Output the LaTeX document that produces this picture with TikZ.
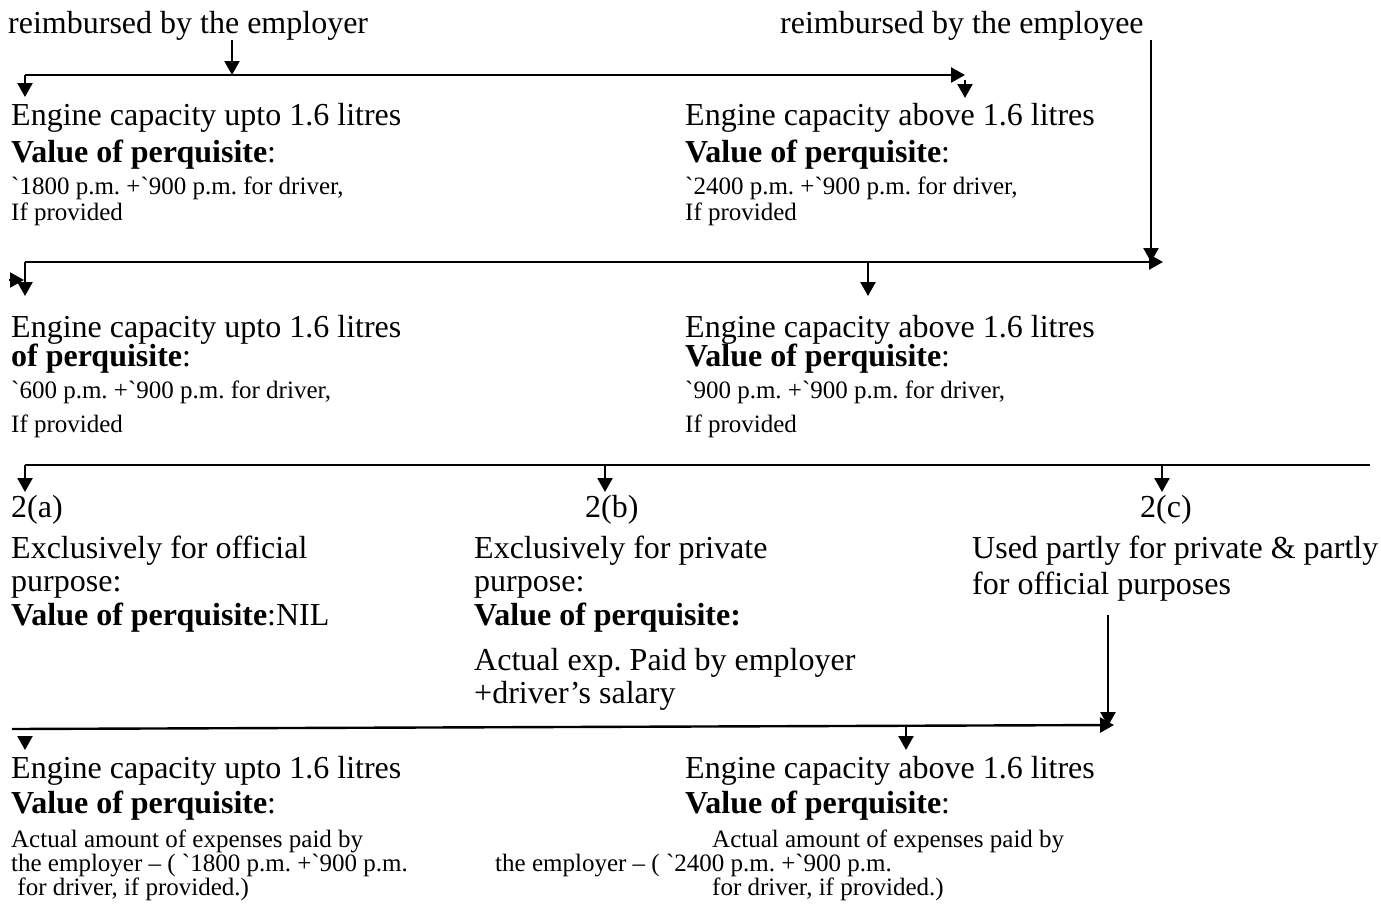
\documentclass[tikz,border=0pt]{standalone}
\usepackage{fontspec}
\setmainfont{Liberation Serif}
\usetikzlibrary{arrows.meta}
\frenchspacing

\begin{document}
\begin{tikzpicture}[x=1pt,y=-1pt]
	\tikzstyle{every node}=[anchor=base west,inner sep=0pt]
	\tikzstyle{lrg}=[font=\fontsize{32}{36}\selectfont]
	\tikzstyle{sml}=[font=\fontsize{25}{28}\selectfont]
	\tikzstyle{wire}=[line width=2.4pt]
	\tikzstyle{arr}=[wire,-{Triangle[width=15pt,length=14pt]}]
	\useasboundingbox (0,0) rectangle (1381,906);

	% top row
	\node[lrg] (emplr) at (8,33) {reimbursed by the employer};
	\node[lrg] (emplee) at (780,33) {reimbursed by the employee};

	\node[lrg] (upto1) at (11,125) {Engine capacity upto 1.6 litres};
	\node[lrg] (val1) at (11,162) {\textbf{Value of perquisite}:};
	\node[sml] (amt1) at (11,194) {\textasciigrave 1800 p.m. +\textasciigrave 900 p.m. for driver,};
	\node[sml] (ifp1) at (11,220) {If provided};
	\node[lrg] (above1) at (685,125) {Engine capacity above 1.6 litres};
	\node[lrg] (val2) at (685,162) {\textbf{Value of perquisite}:};
	\node[sml] (amt2) at (685,194) {\textasciigrave 2400 p.m. +\textasciigrave 900 p.m. for driver,};
	\node[sml] (ifp2) at (685,220) {If provided};

	% second row
	\node[lrg] (upto2) at (11,337) {Engine capacity upto 1.6 litres};
	\node[lrg] (val3) at (11,366) {\textbf{of perquisite}:};
	\node[sml] (amt3) at (11,398) {\textasciigrave 600 p.m. +\textasciigrave 900 p.m. for driver,};
	\node[sml] (ifp3) at (11,432) {If provided};
	\node[lrg] (above2) at (685,337) {Engine capacity above 1.6 litres};
	\node[lrg] (val4) at (685,366) {\textbf{Value of perquisite}:};
	\node[sml] (amt4) at (685,398) {\textasciigrave 900 p.m. +\textasciigrave 900 p.m. for driver,};
	\node[sml] (ifp4) at (685,432) {If provided};

	% 2(a) 2(b) 2(c)
	\node[lrg] (ca) at (11,517) {2(a)};
	\node[lrg] (cb) at (585,517) {2(b)};
	\node[lrg] (cc) at (1140,517) {2(c)};
	\node[lrg] (offa) at (11,558) {Exclusively for official};
	\node[lrg] (offb) at (11,591) {purpose:};
	\node[lrg] (offc) at (11,625) {\textbf{Value of perquisite}:NIL};
	\node[lrg] (priva) at (474,558) {Exclusively for private};
	\node[lrg] (privb) at (474,591) {purpose:};
	\node[lrg] (privc) at (474,625) {\textbf{Value of perquisite:}};
	\node[lrg] (privd) at (474,670) {Actual exp. Paid by employer};
	\node[lrg] (prive) at (474,703) {+driver’s salary};
	\node[lrg] (parta) at (972,558) {Used partly for private \& partly};
	\node[lrg] (partb) at (972,594) {for official purposes};

	% bottom row
	\node[lrg] (upto3) at (11,778) {Engine capacity upto 1.6 litres};
	\node[lrg] (val5) at (11,813) {\textbf{Value of perquisite}:};
	\node[sml] (act1) at (11,847) {Actual amount of expenses paid by};
	\node[sml] (emp1) at (11,871) {the employer – ( \textasciigrave 1800 p.m. +\textasciigrave 900 p.m.};
	\node[sml] (drv1) at (11,895) {\ for driver, if provided.)};
	\node[lrg] (above3) at (685,778) {Engine capacity above 1.6 litres};
	\node[lrg] (val6) at (685,813) {\textbf{Value of perquisite}:};
	\node[sml] (act2) at (712,847) {Actual amount of expenses paid by};
	\node[sml] (emp2) at (495,871) {the employer – ( \textasciigrave 2400 p.m. +\textasciigrave 900 p.m.};
	\node[sml] (drv2) at (712,895) {for driver, if provided.)};

	% junctions and tips
	\coordinate (h1l) at (25,75);
	\coordinate (h1m) at (232,75);
	\coordinate (h1r) at (965,75);
	\coordinate (t1l) at (25,97);
	\coordinate (t1r) at (965,98);
	\coordinate (h2l) at (25,262);
	\coordinate (h2m) at (868,262);
	\coordinate (h2v) at (1151,262);
	\coordinate (h2r) at (1163,262);
	\coordinate (t2l) at (25,296);
	\coordinate (t2m) at (868,296);
	\coordinate (s1) at (9,280);
	\coordinate (s2) at (24,280);
	\coordinate (h3l) at (25,465);
	\coordinate (h3b) at (605,465);
	\coordinate (h3c) at (1162,465);
	\coordinate (h3r) at (1370,465);
	\coordinate (t3a) at (25,492);
	\coordinate (t3b) at (605,492);
	\coordinate (t3c) at (1162,492);
	\coordinate (vd) at (1108,615);
	\coordinate (h4v) at (1108,726);
	\coordinate (h4l) at (12,729);
	\coordinate (h4r) at (1114,725);
	\coordinate (h4m) at (906,726);
	\coordinate (t4m) at (906,750);
	\coordinate (s3) at (25,737);
	\coordinate (t4l) at (25,750);

	% connectors
	\draw[arr] (emplr.south -| h1m) -- (h1m);
	\draw[arr] (h1l) -- (h1r);
	\draw[arr] (h1l) -- (t1l);
	\draw[arr] ([yshift=-5pt]h1r) -- (t1r);

	\draw[arr] (emplee.south -| h2v) -- (h2v);
	\draw[arr] (h2l) -- (h2r);
	\draw[arr] (h2l) -- (t2l);
	\draw[arr] (h2m) -- (t2m);
	\draw[arr] (s1) -- (s2);

	\draw[wire] (h3l) -- (h3r);
	\draw[arr] (h3l) -- (t3a);
	\draw[arr] (h3b) -- (t3b);
	\draw[arr] (h3c) -- (t3c);

	\draw[arr] (vd) -- (h4v);
	\draw[arr] (h4l) -- (h4r);
	\draw[arr] (h4m) -- (t4m);
	\draw[arr] (s3) -- (t4l);
\end{tikzpicture}
\end{document}
